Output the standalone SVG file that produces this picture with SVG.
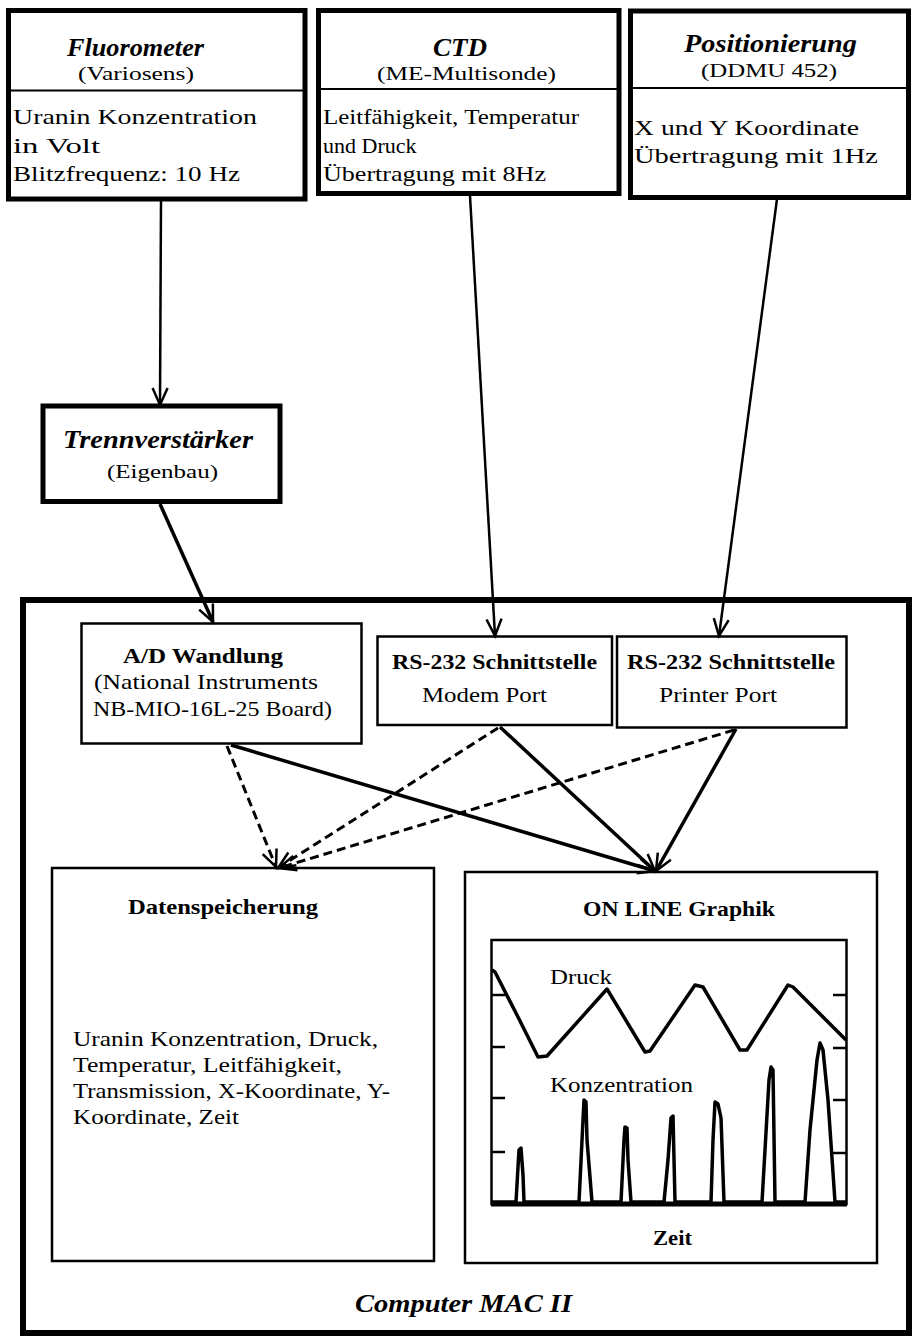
<svg xmlns="http://www.w3.org/2000/svg" width="914" height="1338" viewBox="0 0 914 1338">
<defs>
<style>
.box{fill:none;stroke:#000;stroke-width:5}
.obox{fill:none;stroke:#000;stroke-width:6}
.ibox{fill:none;stroke:#000;stroke-width:2.5}
.dv{stroke:#000;stroke-width:2}
text{font-family:"Liberation Serif","Times New Roman",serif;fill:#000}
.t{font-size:26px;font-weight:bold;font-style:italic}
.s{font-size:19px}
.b{font-size:22px}
.h{font-size:21px;font-weight:bold}
.r{font-size:21px}
.c{stroke:#000;stroke-width:2.5;fill:none}
.c3{stroke:#000;stroke-width:3.5;fill:none}
.d{stroke:#000;stroke-width:3;fill:none;stroke-dasharray:9 5}
.ah{fill:none;stroke:#000;stroke-width:2.5;stroke-dasharray:none}
.plot{fill:none;stroke:#000;stroke-width:3.5;stroke-linejoin:round}
</style>
<marker id="arr" markerUnits="userSpaceOnUse" markerWidth="24" markerHeight="24" viewBox="-20 -12 24 24" refX="0" refY="0" orient="auto">
<path class="ah" d="M-17,-7.5 L0,0 L-17,7.5"/>
</marker>
</defs>
<rect width="914" height="1338" fill="#fff"/>

<g id="fluorometer">
<rect class="box" x="8.5" y="10.5" width="296.5" height="188.5"/>
<line class="dv" x1="8.5" y1="90.5" x2="305" y2="90.5"/>
<text class="t" x="67" y="56" textLength="137" lengthAdjust="spacingAndGlyphs">Fluorometer</text>
<text class="s" x="78" y="80" textLength="116" lengthAdjust="spacingAndGlyphs">(Variosens)</text>
<text class="b" x="13" y="124" textLength="244" lengthAdjust="spacingAndGlyphs">Uranin Konzentration</text>
<text class="b" x="13" y="153" textLength="87" lengthAdjust="spacingAndGlyphs">in Volt</text>
<text class="b" x="13" y="181" textLength="227" lengthAdjust="spacingAndGlyphs">Blitzfrequenz: 10 Hz</text>
</g>

<g id="ctd">
<rect class="box" x="318.5" y="10.5" width="300.5" height="183"/>
<line class="dv" x1="318.5" y1="89" x2="619" y2="89"/>
<text class="t" x="433" y="56" textLength="54" lengthAdjust="spacingAndGlyphs">CTD</text>
<text class="s" x="377" y="80" textLength="179" lengthAdjust="spacingAndGlyphs">(ME-Multisonde)</text>
<text class="b" x="323" y="124" textLength="256" lengthAdjust="spacingAndGlyphs">Leitfähigkeit, Temperatur</text>
<text class="b" x="323" y="153">und Druck</text>
<text class="b" x="323" y="181" textLength="223" lengthAdjust="spacingAndGlyphs">Übertragung mit 8Hz</text>
</g>

<g id="positionierung">
<rect class="box" x="630.5" y="11" width="278" height="186.5"/>
<line class="dv" x1="630.5" y1="88" x2="908.5" y2="88"/>
<text class="t" x="684" y="52" textLength="173" lengthAdjust="spacingAndGlyphs">Positionierung</text>
<text class="s" x="701" y="77" textLength="136" lengthAdjust="spacingAndGlyphs">(DDMU 452)</text>
<text class="b" x="634" y="135" textLength="225" lengthAdjust="spacingAndGlyphs">X und Y Koordinate</text>
<text class="b" x="634" y="163" textLength="244" lengthAdjust="spacingAndGlyphs">Übertragung mit 1Hz</text>
</g>

<g id="trennverstaerker">
<rect class="box" x="43" y="406" width="237" height="95.5"/>
<text class="t" x="63" y="448" textLength="190" lengthAdjust="spacingAndGlyphs">Trennverstärker</text>
<text class="s" x="107" y="478" textLength="111" lengthAdjust="spacingAndGlyphs">(Eigenbau)</text>
</g>

<g id="computer">
<rect class="obox" x="23" y="600" width="886" height="733"/>
<text class="t" x="355" y="1312" textLength="217" lengthAdjust="spacingAndGlyphs">Computer  MAC II</text>
</g>

<g id="ad">
<rect class="ibox" x="81.5" y="623.5" width="280" height="120"/>
<text class="h" x="123" y="663" textLength="160" lengthAdjust="spacingAndGlyphs">A/D Wandlung</text>
<text class="r" x="94" y="689" textLength="224" lengthAdjust="spacingAndGlyphs">(National Instruments</text>
<text class="r" x="93" y="716" textLength="239" lengthAdjust="spacingAndGlyphs">NB-MIO-16L-25 Board)</text>
</g>

<g id="modem">
<rect class="ibox" x="377.5" y="636.5" width="234.5" height="88.5"/>
<text class="h" x="392" y="669" textLength="205" lengthAdjust="spacingAndGlyphs">RS-232 Schnittstelle</text>
<text class="r" x="422" y="702" textLength="125" lengthAdjust="spacingAndGlyphs">Modem Port</text>
</g>

<g id="printer">
<rect class="ibox" x="617" y="636.5" width="229.5" height="91"/>
<text class="h" x="627" y="669" textLength="208" lengthAdjust="spacingAndGlyphs">RS-232 Schnittstelle</text>
<text class="r" x="659" y="702" textLength="118" lengthAdjust="spacingAndGlyphs">Printer Port</text>
</g>

<g id="datenspeicherung">
<rect class="ibox" x="52" y="868" width="382" height="393"/>
<text class="h" x="128" y="914" textLength="190" lengthAdjust="spacingAndGlyphs">Datenspeicherung</text>
<text class="r" x="73" y="1046" textLength="305" lengthAdjust="spacingAndGlyphs">Uranin Konzentration, Druck,</text>
<text class="r" x="73" y="1072" textLength="269" lengthAdjust="spacingAndGlyphs">Temperatur, Leitfähigkeit,</text>
<text class="r" x="73" y="1098" textLength="317" lengthAdjust="spacingAndGlyphs">Transmission, X-Koordinate, Y-</text>
<text class="r" x="73" y="1124" textLength="166" lengthAdjust="spacingAndGlyphs">Koordinate, Zeit</text>
</g>

<g id="graphik">
<rect class="ibox" x="465" y="872" width="412" height="391"/>
<text class="h" x="583" y="916" textLength="192" lengthAdjust="spacingAndGlyphs">ON LINE Graphik</text>
<rect class="ibox" x="491.5" y="940" width="355" height="264"/>
<line stroke="#000" stroke-width="5" x1="491" y1="1204" x2="847" y2="1204"/>
<g stroke="#000" stroke-width="2.5">
<line x1="491" y1="995" x2="505" y2="995"/>
<line x1="491" y1="1047" x2="505" y2="1047"/>
<line x1="491" y1="1098" x2="505" y2="1098"/>
<line x1="491" y1="1152" x2="505" y2="1152"/>
<line x1="833" y1="995" x2="847" y2="995"/>
<line x1="833" y1="1048" x2="847" y2="1048"/>
<line x1="833" y1="1100" x2="847" y2="1100"/>
<line x1="833" y1="1153" x2="847" y2="1153"/>
</g>
<polyline class="plot" points="492,970 495,972 517,1015 538,1057 547,1056 607,989 645,1052 650,1051 695,985 703,987 740,1050 747,1050 788,985 793,987 846,1040"/>
<polyline class="plot" points="492,1202 516,1202 519,1150 521,1148 523,1175 524,1202 579,1202 583,1120 584,1100 586,1102 587,1140 592,1202 621,1202 624,1140 625,1127 627,1128 628,1160 631,1202 664,1202 668,1160 671,1118 673,1116 675,1202 711,1202 713,1140 715,1102 718,1104 721,1118 724,1202 762,1202 765,1150 769,1080 771,1067 773,1070 775,1202 805,1202 810,1130 817,1060 820,1043 823,1050 828,1100 835,1202 846,1202"/>
<text class="r" x="550" y="984" textLength="62" lengthAdjust="spacingAndGlyphs">Druck</text>
<text class="r" x="550" y="1092" textLength="143" lengthAdjust="spacingAndGlyphs">Konzentration</text>
<text class="h" x="653" y="1245" textLength="39" lengthAdjust="spacingAndGlyphs">Zeit</text>
</g>

<g id="connectors">
<line class="c" x1="161" y1="201" x2="160" y2="405" marker-end="url(#arr)"/>
<line class="c" x1="470" y1="196" x2="495" y2="636" marker-end="url(#arr)"/>
<line class="c" x1="777" y1="199" x2="719" y2="636" marker-end="url(#arr)"/>
<line class="c3" x1="160" y1="504" x2="213" y2="622" marker-end="url(#arr)"/>
<line class="c3" x1="231" y1="745" x2="655" y2="871" marker-end="url(#arr)"/>
<line class="c3" x1="500" y1="727" x2="655" y2="871" marker-end="url(#arr)"/>
<line class="c3" x1="736" y1="729" x2="656" y2="871" marker-end="url(#arr)"/>
<line class="d" x1="227" y1="746" x2="276" y2="867" marker-end="url(#arr)"/>
<line class="d" x1="498" y1="728" x2="278" y2="868" marker-end="url(#arr)"/>
<line class="d" x1="734" y1="730" x2="279" y2="868" marker-end="url(#arr)"/>
</g>
</svg>
